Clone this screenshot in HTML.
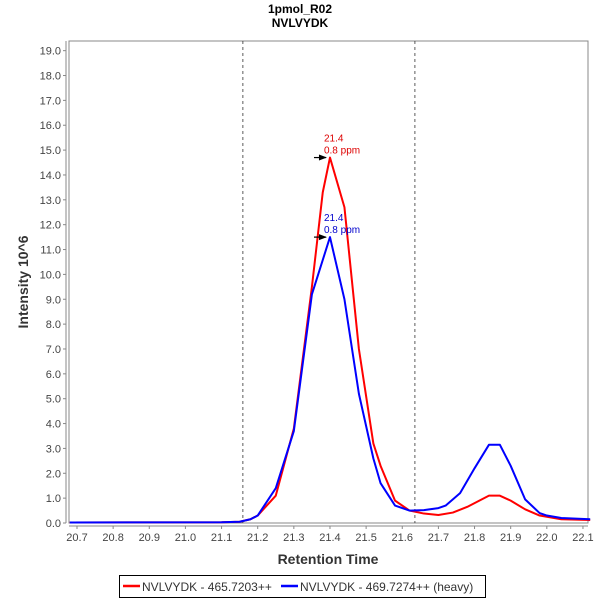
<!DOCTYPE html>
<html><head><meta charset="utf-8"><style>
body{margin:0;background:#fff;font-family:"Liberation Sans",sans-serif}
</style></head><body>
<svg width="600" height="600" xmlns="http://www.w3.org/2000/svg" font-family="Liberation Sans, sans-serif">
<text x="300" y="13" text-anchor="middle" font-size="12" font-weight="bold">1pmol_R02</text>
<text x="300" y="27" text-anchor="middle" font-size="12" font-weight="bold">NVLVYDK</text>
<rect x="69" y="41" width="519" height="482" fill="#fff" stroke="#888"/>
<g id="yt"></g>
<g id="xt"></g>
<text x="28" y="282" transform="rotate(-90 28 282)" text-anchor="middle" font-size="14" font-weight="bold" fill="#333">Intensity 10^6</text>
<text x="328" y="564" text-anchor="middle" font-size="14" font-weight="bold" fill="#333">Retention Time</text>
<g id="marks"></g>
<g>
<rect x="119.5" y="575.5" width="366" height="22" fill="#fff" stroke="#000"/>
<line x1="123" y1="586" x2="140" y2="586" stroke="#f00" stroke-width="2.5"/>
<text x="142" y="591" font-size="12" fill="#333">NVLVYDK - 465.7203++</text>
<line x1="281" y1="586" x2="298" y2="586" stroke="#00f" stroke-width="2.5"/>
<text x="300" y="591" font-size="12" fill="#333">NVLVYDK - 469.7274++ (heavy)</text>
</g>
</svg>
<script>
const ns="http://www.w3.org/2000/svg";
const xTicks=[20.7,20.8,20.9,21.0,21.1,21.2,21.3,21.4,21.5,21.6,21.7,21.8,21.9,22.0,22.1];
const yTicks=[0,1,2,3,4,5,6,7,8,9,10,11,12,13,14,15,16,17,18,19];
const boundaries=[21.159,21.635];
const redX=[20.68,21.1,21.15,21.18,21.2,21.25,21.3,21.35,21.38,21.4,21.44,21.48,21.52,21.54,21.58,21.62,21.66,21.7,21.74,21.78,21.84,21.87,21.9,21.94,21.98,22.04,22.12];
const redY=[0.02,0.03,0.05,0.15,0.3,1.1,3.8,9.5,13.3,14.7,12.7,7.0,3.2,2.3,0.9,0.5,0.38,0.32,0.42,0.65,1.1,1.1,0.9,0.55,0.3,0.15,0.12];
const blueX=[20.68,21.1,21.15,21.18,21.2,21.25,21.3,21.35,21.4,21.44,21.48,21.52,21.54,21.58,21.62,21.66,21.7,21.72,21.76,21.8,21.84,21.87,21.9,21.94,21.98,22.0,22.04,22.12];
const blueY=[0.02,0.03,0.05,0.15,0.3,1.4,3.7,9.2,11.5,9.0,5.2,2.6,1.6,0.7,0.5,0.52,0.6,0.7,1.2,2.2,3.15,3.15,2.3,0.95,0.4,0.3,0.2,0.15];
const peaks=[{x:21.4,y:14.7,c:"#d00",t:"21.4"},{x:21.4,y:11.5,c:"#00c",t:"21.4"}];
const X=v=>77+(v-20.7)*361.4;
const Y=v=>523-v*24.86;
function mk(t,a,p){const e=document.createElementNS(ns,t);for(const k in a)e.setAttribute(k,a[k]);(p||document.getElementById('marks')).appendChild(e);return e;}
const yt=document.getElementById('yt'),xt=document.getElementById('xt');
mk('line',{x1:66,y1:41,x2:66,y2:523,stroke:'#888'},yt);
mk('line',{x1:69,y1:526,x2:588,y2:526,stroke:'#888'},xt);
yTicks.forEach(v=>{mk('line',{x1:63,x2:66,y1:Y(v),y2:Y(v),stroke:'#888'},yt);
const t=mk('text',{x:61,y:Y(v)+4,'text-anchor':'end','font-size':11,fill:'#444'},yt);t.textContent=v.toFixed(1);

});
xTicks.forEach(v=>{mk('line',{x1:X(v),x2:X(v),y1:526,y2:529,stroke:'#888'},xt);
const t=mk('text',{x:X(v),y:541,'text-anchor':'middle','font-size':11,fill:'#444'},xt);t.textContent=v.toFixed(1);

});
boundaries.forEach(b=>{const l=mk('line',{x1:X(b),x2:X(b),y1:41,y2:523,stroke:'#333','stroke-width':0.8,'stroke-dasharray':'3,3'});

});
function line(xs,ys,c,n){const p=mk('polyline',{points:xs.map((x,i)=>X(x)+','+Y(ys[i])).join(' '),fill:'none',stroke:c,'stroke-width':2,'stroke-linejoin':'round'});

}
line(redX,redY,'#f00','series-light');
line(blueX,blueY,'#00f','series-heavy');
peaks.forEach(pk=>{const px=X(pk.x)-1,py=Y(pk.y);
const a=mk('polygon',{points:`${px-2},${py} ${px-10},${py-3} ${px-10},${py+3}`,fill:'#000'});


mk('line',{x1:px-15,x2:px-3,y1:py,y2:py,stroke:'#000','stroke-width':1.2});
const t1=mk('text',{x:px-5,y:py-16,'font-size':10,fill:pk.c});t1.textContent=pk.t;


const t2=mk('text',{x:px-5,y:py-4,'font-size':10,fill:pk.c});t2.textContent='0.8 ppm';

});
</script>
</body></html>
